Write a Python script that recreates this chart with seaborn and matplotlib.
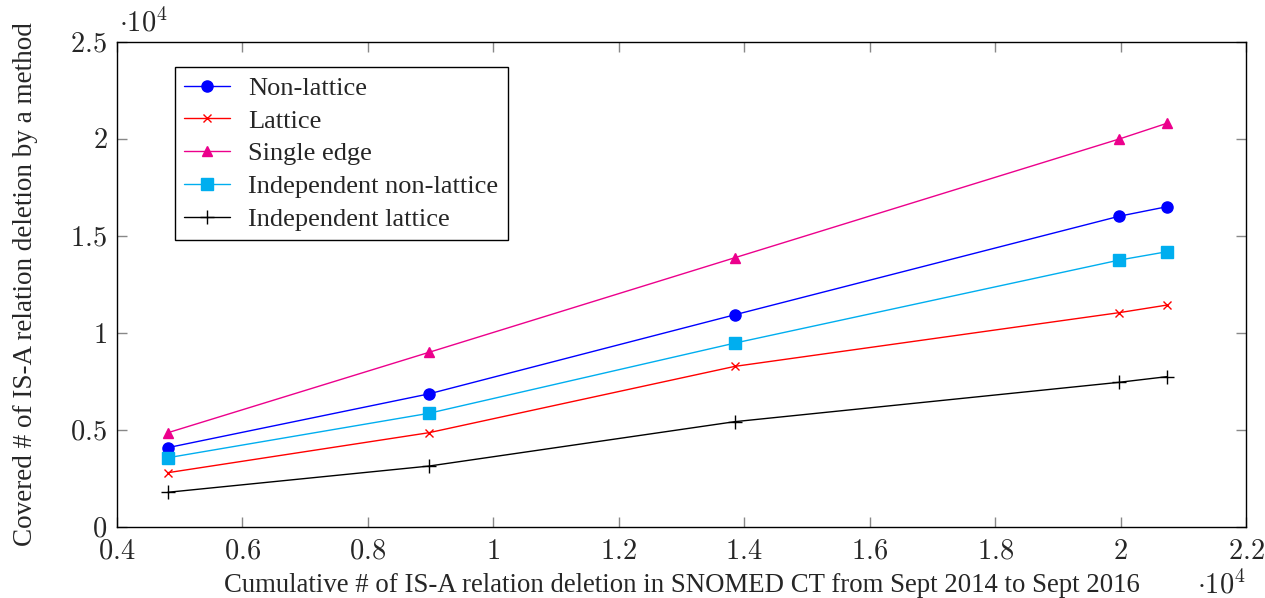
import matplotlib
matplotlib.use("Agg")
import matplotlib.pyplot as plt
import matplotlib.ticker as mticker
import seaborn as sns
import pandas as pd

# cumulative IS-A deletions (x) and covered deletions per method (y)
deletions = [4810, 8970, 13850, 19980, 20740]
non_lattice = [4090, 6860, 10940, 16020, 16510]
lattice = [2800, 4860, 8280, 11050, 11440]
single_edge = [4860, 9000, 13880, 20000, 20810]
indep_non_lattice = [3570, 5860, 9480, 13760, 14190]
indep_lattice = [1790, 3140, 5430, 7460, 7750]

methods = ["Non-lattice", "Lattice", "Single edge",
           "Independent non-lattice", "Independent lattice"]
series = [non_lattice, lattice, single_edge, indep_non_lattice, indep_lattice]
x_ticks = [4000, 6000, 8000, 10000, 12000, 14000, 16000, 18000, 20000, 22000]
y_ticks = [0, 5000, 10000, 15000, 20000, 25000]

colors = ["#0000FF", "#FF0000", "#EC008C", "#00AEEF", "#000000"]
markers = ["o", "x", "^", "s", "+"]
msizes = [8, 6, 7, 8, 10]

sns.set_theme(style="ticks")
plt.rcParams["font.family"] = ["Liberation Serif", "DejaVu Serif"]
plt.rcParams["mathtext.fontset"] = "cm"

fig = plt.figure(figsize=(12.65, 5.98), dpi=100)
ax = fig.add_axes([0.0925, 0.1187, 0.8925, 0.8111])

for name, vals, c, m, ms in zip(methods, series, colors, markers, msizes):
    df = pd.DataFrame({"x": deletions, "y": vals})
    sns.lineplot(data=df, x="x", y="y", ax=ax, color=c, marker=m,
                 markersize=ms, markeredgecolor=c, markeredgewidth=1.0,
                 linewidth=1.0, label=name)

ax.set_xlim(4000, 22000)
ax.set_ylim(0, 25000)
ax.set_xticks(x_ticks)
ax.set_yticks(y_ticks)
fmt = mticker.FuncFormatter(lambda v, _: r"$%g$" % round(v / 1e4, 2))
ax.xaxis.set_major_formatter(fmt)
ax.yaxis.set_major_formatter(fmt)
ax.tick_params(direction="in", length=7.5, width=1, color="#888888",
               top=True, right=True, labelsize=20.5)
ax.tick_params(axis="x", pad=9)
ax.tick_params(axis="y", pad=7)
for s in ax.spines.values():
    s.set_color("black")
    s.set_linewidth(1.0)

ax.set_xlabel("Cumulative # of IS-A relation deletion in SNOMED CT from Sept 2014 to Sept 2016",
              fontsize=19.3, labelpad=6)
ax.set_ylabel("Covered # of IS-A relation deletion by a method", fontsize=19.5, labelpad=23)

ax.text(0.002, 1.01, r"$\cdot 10^4$", transform=ax.transAxes, fontsize=20.5,
        ha="left", va="bottom")
ax.text(1.0, -0.09, r"$\cdot 10^4$", transform=ax.transAxes, fontsize=20.5,
        ha="right", va="top")

leg = ax.legend(loc="upper left", bbox_to_anchor=(0.051, 0.948), fontsize=19,
                frameon=True, fancybox=False, framealpha=1, edgecolor="black",
                handlelength=1.75, handletextpad=0.7, labelspacing=0.35,
                borderpad=0.35, borderaxespad=0)
leg.get_frame().set_linewidth(1.0)

fig.savefig("out.png", dpi=100)
